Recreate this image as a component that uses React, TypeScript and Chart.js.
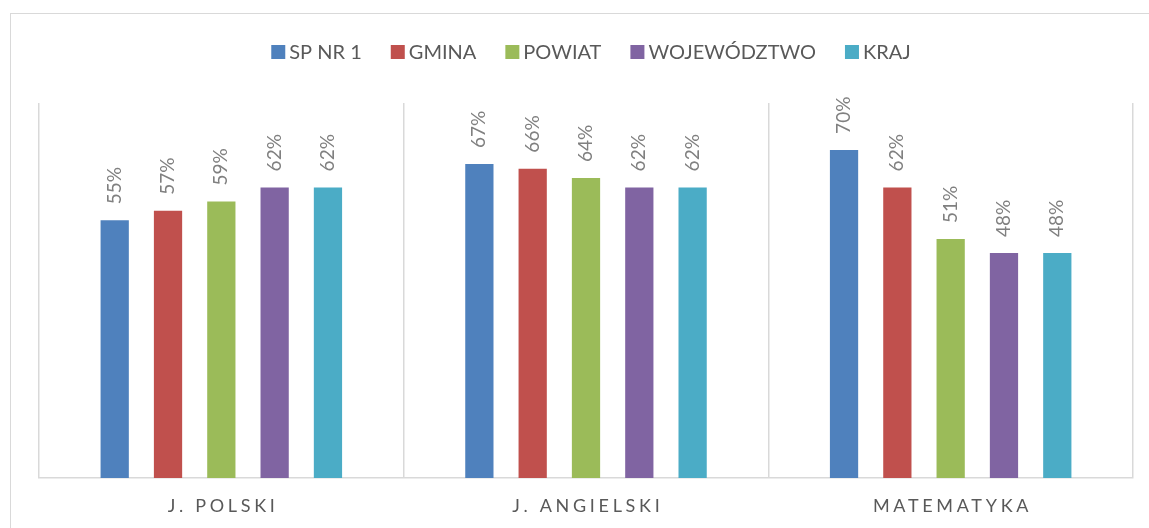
import React, { useEffect, useRef } from "react";
import { Chart, registerables } from "chart.js";

Chart.register(...registerables);

const categories = ["J. POLSKI", "J. ANGIELSKI", "MATEMATYKA"];
const seriesNames = ["SP NR 1", "GMINA", "POWIAT", "WOJEWÓDZTWO", "KRAJ"];
const spNr1 = [55, 67, 70];
const gmina = [57, 66, 62];
const powiat = [59, 64, 51];
const wojewodztwo = [62, 62, 48];
const kraj = [62, 62, 48];
const seriesValues = [spNr1, gmina, powiat, wojewodztwo, kraj];
const seriesColors = ["#4F81BD", "#C0504D", "#9BBB59", "#8064A2", "#4BACC6"];
const yMin = 0;
const yMax = 80;

const FONT = "Lato, 'Open Sans', sans-serif";

const customPlugin = {
  id: "customDraw",
  beforeDraw(chart: any) {
    const ctx = chart.ctx;
    ctx.save();
    ctx.strokeStyle = "#d9d9d9";
    ctx.lineWidth = 1;
    ctx.strokeRect(10.5, 13.5, chart.width + 20, chart.height + 20);
    ctx.restore();
  },
  afterDatasetsDraw(chart: any) {
    const ctx = chart.ctx;
    ctx.save();
    ctx.fillStyle = "#808080";
    ctx.font = `19px ${FONT}`;
    ctx.textAlign = "left";
    ctx.textBaseline = "middle";
    chart.data.datasets.forEach((ds: any, di: number) => {
      const meta = chart.getDatasetMeta(di);
      meta.data.forEach((el: any, i: number) => {
        ctx.save();
        ctx.translate(el.x, el.y - 16);
        ctx.rotate(-Math.PI / 2);
        ctx.fillText(`${ds.data[i]}%`, 0, 0);
        ctx.restore();
      });
    });
    ctx.restore();
  },
  afterDraw(chart: any) {
    const ctx = chart.ctx;
    // legend
    ctx.save();
    ctx.font = `20px ${FONT}`;
    ctx.textBaseline = "middle";
    ctx.textAlign = "left";
    const box = 14;
    const gapText = 4;
    const gapItem = 29;
    const items = chart.data.datasets.map((ds: any) => ({
      label: ds.label,
      color: ds.backgroundColor,
      w: ctx.measureText(ds.label).width,
    }));
    let total = 0;
    items.forEach((it: any, i: number) => {
      total += box + gapText + it.w + (i < items.length - 1 ? gapItem : 0);
    });
    let x = 591 - total / 2;
    const cy = 52;
    items.forEach((it: any) => {
      ctx.fillStyle = it.color;
      ctx.fillRect(x, cy - box / 2, box, box);
      ctx.fillStyle = "#595959";
      ctx.fillText(it.label, x + box + gapText, cy + 1);
      x += box + gapText + it.w + gapItem;
    });
    ctx.restore();

    // category labels
    const xs = chart.scales.x;
    ctx.save();
    ctx.font = `18px ${FONT}`;
    ctx.fillStyle = "#595959";
    ctx.textAlign = "center";
    ctx.textBaseline = "alphabetic";
    const sp = 3.7;
    (ctx as any).letterSpacing = `${sp}px`;
    categories.forEach((c, i) => {
      const px = xs.getPixelForValue(i);
      ctx.fillText(c, px + sp / 2, 512);
    });
    ctx.restore();
  },
};

export default function App() {
  const canvasRef = useRef<HTMLCanvasElement | null>(null);

  useEffect(() => {
    document.body.style.margin = "0";
    const canvas = canvasRef.current;
    if (!canvas) return;
    const chart = new Chart(canvas, {
      type: "bar",
      data: {
        labels: categories,
        datasets: seriesNames.map((name, i) => ({
          label: name,
          data: seriesValues[i],
          backgroundColor: seriesColors[i],
          borderWidth: 0,
          barPercentage: 0.53,
          categoryPercentage: 0.731,
        })),
      },
      options: {
        animation: false,
        responsive: true,
        maintainAspectRatio: false,
        layout: { padding: { top: 103, left: 39, right: 16, bottom: 50 } },
        plugins: {
          legend: { display: false },
          tooltip: { enabled: false },
        },
        scales: {
          x: {
            grid: { color: "#d9d9d9", lineWidth: 1.5, drawTicks: false, offset: true },
            border: { color: "#d9d9d9", width: 1.5 },
            ticks: { display: false },
          },
          y: { display: false, min: yMin, max: yMax },
        },
      },
      plugins: [customPlugin],
    });
    return () => chart.destroy();
  }, []);

  return (
    <div style={{ width: "1149px", height: "528px", position: "relative" }}>
      <canvas ref={canvasRef} />
    </div>
  );
}
